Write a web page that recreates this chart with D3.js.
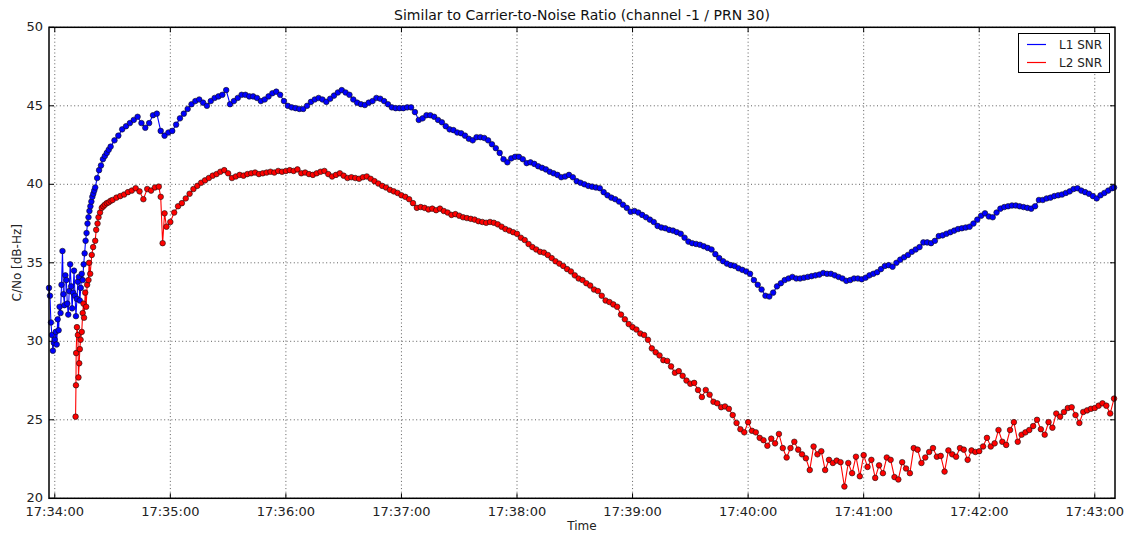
<!DOCTYPE html>
<html>
<head>
<meta charset="utf-8">
<script src="https://cdn.jsdelivr.net/npm/d3@7"></script>
<style>
  body { margin: 0; background: #fff; }
  svg { display: block; font-family: "DejaVu Sans", sans-serif; }
</style>
</head>
<body>
<svg id="chart" width="1131" height="536"></svg>
<script>
// seconds after 17:34:00, C/No in dB-Hz
const l1Snr = [
  [-3,33.4],[-2.5,32.9],[-2,31.2],[-1.5,30.4],[-1,29.4],[-0.5,29.9],[0,30.1],[0.5,30.6],[1,29.8],[1.5,31.4],
  [2,30.7],[2.5,32.2],[3,31.8],[3.5,33.6],[4,35.75],[4.5,33.0],[5,32.3],[5.5,34.2],[6,33.9],[6.5,32.4],
  [7,31.7],[7.5,33.2],[8,34.9],[8.5,33.5],[9,32.1],[9.5,33.1],[10,34.5],[10.5,32.9],[11,31.6],[11.5,32.7],
  [12,33.8],[12.5,34.1],[13,32.6],[13.5,33.4],[14,34.3],[14.5,33.9],[15,34.9],[15.5,35.6],[16,36.4],[16.5,36.9],
  [17,37.5],[17.5,37.9],[18,38.3],[18.5,38.6],[19,38.9],[19.5,39.2],[20,39.4],[20.5,39.6],[21,39.8],[22,40.4],
  [23,40.9],[24,41.2],[25,41.6],[26,41.8],[27,42.0],[28,42.2],
  [29,42.4],[31,42.8],[33,43.1],[35,43.5],[37,43.7],[39,43.9],[41,44.1],[43,44.3],[45,43.9],[47,43.6],
  [49,43.9],[51,44.4],[53,44.5],[55,43.4],[57,43.1],[59,43.3],[61,43.4],[63,43.8],[65,44.2],[67,44.5],
  [69,44.8],[71,45.1],[73,45.3],[75,45.4],[77,45.2],[79,45.0],[81,45.3],[83,45.5],[85,45.6],[87,45.7],
  [89,46.0],[91,45.1],[93,45.3],[95,45.5],[97,45.7],[99,45.7],[101,45.6],[103,45.6],[105,45.5],[107,45.3],
  [109,45.4],[111,45.6],[113,45.8],[115,45.9],[117,45.7],[119,45.3],[121,45.0],[123,44.9],[125,44.85],[127,44.8],
  [129,44.8],[131,45.0],[133,45.25],[135,45.4],[137,45.5],[139,45.4],[141,45.25],[143,45.45],[145,45.65],[147,45.85],
  [149,46.0],[151,45.85],[153,45.7],[155,45.4],[157,45.2],[159,45.1],[161,45.05],[163,45.2],[165,45.3],[167,45.5],
  [169,45.45],[171,45.3],[173,45.1],[175,44.9],[177,44.85],[179,44.85],[181,44.85],[183,44.9],[185,44.9],[187,44.6],
  [189,44.1],[191,44.2],[193,44.4],[195,44.4],[197,44.3],[199,44.1],[201,43.95],[203,43.7],[205,43.5],[207,43.45],
  [209,43.3],[211,43.25],[213,43.1],[215,42.9],[217,42.8],[219,43.0],[221,43.0],[223,42.95],[225,42.8],[227,42.55],
  [229,42.3],[231,42.0],[233,41.6],[235,41.4],[237,41.65],[239,41.75],[241,41.75],[243,41.6],[245,41.35],[247,41.4],
  [249,41.3],[251,41.15],[253,41.05],[255,40.95],[257,40.8],[259,40.7],[261,40.6],[263,40.45],[265,40.5],[267,40.6],
  [269,40.45],[271,40.2],[273,40.1],[275,40.0],[277,39.9],[279,39.85],[281,39.8],[283,39.75],[285,39.5],[287,39.3],
  [289,39.15],[291,39.05],[293,38.9],[295,38.7],[297,38.5],[299,38.25],[301,38.3],[303,38.2],[305,38.05],[307,37.9],
  [309,37.75],[311,37.6],[313,37.35],[315,37.25],[317,37.2],[319,37.1],[321,37.05],[323,36.95],[325,36.85],[327,36.6],
  [329,36.35],[331,36.25],[333,36.2],[335,36.15],[337,36.05],[339,35.95],[341,35.85],[343,35.55],[345,35.3],[347,35.1],
  [349,34.95],[351,34.85],[353,34.8],[355,34.65],[357,34.55],[359,34.45],[361,34.3],[363,33.9],[365,33.6],[367,33.3],
  [369,32.9],[371,32.85],[373,33.1],[375,33.5],[377,33.7],[379,33.9],[381,34.0],[383,34.1],[385,34.0],[387,34.0],
  [389,34.05],[391,34.1],[393,34.15],[395,34.2],[397,34.25],[399,34.35],[401,34.3],[403,34.3],[405,34.2],[407,34.1],
  [409,34.0],[411,33.85],[413,33.9],[415,34.0],[417,34.0],[419,33.95],[421,34.05],[423,34.2],[425,34.3],[427,34.4],
  [429,34.6],[431,34.8],[433,34.85],[435,34.75],[437,35.0],[439,35.2],[441,35.35],[443,35.5],[445,35.7],[447,35.85],
  [449,36.0],[451,36.3],[453,36.3],[455,36.25],[457,36.4],[459,36.7],[461,36.75],[463,36.85],[465,36.95],[467,37.05],
  [469,37.15],[471,37.2],[473,37.25],[475,37.3],[477,37.5],[479,37.75],[481,38.0],[483,38.15],[485,37.95],[487,37.9],
  [489,38.2],[491,38.45],[493,38.55],[495,38.6],[497,38.65],[499,38.65],[501,38.6],[503,38.55],[505,38.5],[507,38.45],
  [509,38.6],[511,39.0],[513,39.0],[515,39.1],[517,39.15],[519,39.25],[521,39.3],[523,39.35],[525,39.45],[527,39.55],
  [529,39.7],[531,39.75],[533,39.6],[535,39.5],[537,39.4],[539,39.25],[541,39.1],[543,39.3],[545,39.45],[547,39.6],
  [549,39.75],[550,39.8]
]

const l2Snr = [
  [10.8,25.2],[11.0,27.2],[11.1,29.25],[11.5,30.9],[12.0,30.4],[12.3,27.7],[12.7,28.6],[13.0,29.5],[13.4,30.1],[14.0,30.6],
  [14.5,31.8],[14.9,32.4],[15.2,31.5],[15.8,33.1],[16.3,32.2],[16.8,33.6],[17.5,33.9],[17.8,35.0],[18.4,34.3],[19.2,35.5],
  [19.9,36.0],[21.0,36.4],[21.5,37.1],[22.2,37.5],[22.7,37.9],[23.5,38.2],[24.4,38.5],[25.2,38.6],[26,38.7],[27,38.8],[28,38.85],[29,38.95],[30,39.0],[32,39.15],[34,39.25],
  [36,39.35],[38,39.5],[40,39.6],[42,39.75],[44,39.55],[46,39.05],[48,39.7],[50,39.6],[52,39.8],[54,39.85],
  [55,39.2],[56,36.25],[57,38.15],[58,37.3],[60,37.6],[62,38.2],[64,38.6],[66,38.8],[68,39.1],[70,39.4],
  [72,39.7],[74,39.9],[76,40.1],[78,40.25],[80,40.4],[82,40.55],[84,40.65],[86,40.8],[88,40.9],[90,40.7],
  [92,40.4],[94,40.5],[96,40.6],[98,40.55],[100,40.65],[102,40.7],[104,40.75],[106,40.65],[108,40.7],[110,40.75],
  [112,40.8],[114,40.75],[116,40.85],[118,40.8],[120,40.85],[122,40.9],[124,40.85],[126,40.95],[128,40.7],[130,40.75],
  [132,40.65],[134,40.6],[136,40.7],[138,40.8],[140,40.85],[142,40.65],[144,40.5],[146,40.6],[148,40.7],[150,40.55],
  [152,40.4],[154,40.45],[156,40.4],[158,40.35],[160,40.45],[162,40.5],[164,40.35],[166,40.2],[168,40.05],[170,39.9],
  [172,39.8],[174,39.65],[176,39.55],[178,39.45],[180,39.3],[182,39.2],[184,39.05],[186,38.8],[188,38.5],[190,38.55],
  [192,38.5],[194,38.4],[196,38.45],[198,38.35],[200,38.45],[202,38.3],[204,38.2],[206,38.05],[208,38.1],[210,38.0],
  [212,37.9],[214,37.85],[216,37.8],[218,37.75],[220,37.65],[222,37.6],[224,37.55],[226,37.6],[228,37.55],[230,37.45],
  [232,37.3],[234,37.15],[236,37.05],[238,36.95],[240,36.85],[242,36.6],[244,36.45],[246,36.2],[248,36.0],[250,35.85],
  [252,35.7],[254,35.65],[256,35.5],[258,35.3],[260,35.1],[262,34.95],[264,34.8],[266,34.6],[268,34.45],[270,34.2],
  [272,34.0],[274,33.9],[276,33.7],[278,33.55],[280,33.3],[282,33.2],[284,32.9],[286,32.6],[288,32.5],[290,32.35],
  [292,32.2],[294,31.7],[296,31.4],[298,31.1],[300,30.9],[302,30.75],[304,30.5],[306,30.4],[308,30.1],[310,29.55],
  [312,29.3],[314,29.1],[316,28.8],[318,28.75],[320,28.4],[322,28.0],[324,28.1],[326,27.8],[328,27.5],[330,27.3],
  [332,27.35],[334,26.9],[336,26.45],[338,26.9],[340,26.6],[342,26.15],[344,26.05],[346,25.8],[348,25.85],[350,25.7],
  [352,25.3],[354,24.8],[356,24.4],[358,24.2],[360,24.85],[362,24.3],[364,24.2],[366,23.85],[368,23.7],[370,23.35],
  [372,23.8],[374,23.5],[376,24.1],[378,23.2],[380,22.6],[382,23.2],[384,23.6],[386,23.1],[388,22.8],[390,22.55],
  [392,21.8],[394,23.3],[396,22.8],[398,23.0],[400,21.8],[402,22.45],[404,22.25],[406,22.4],[408,22.3],[410,20.75],
  [412,22.25],[414,21.6],[416,22.65],[418,21.4],[420,22.75],[422,22.0],[424,22.45],[426,21.3],[428,22.1],[430,21.6],
  [432,22.6],[434,22.45],[436,21.35],[438,21.2],[440,22.3],[442,21.9],[444,21.6],[446,23.2],[448,23.1],[450,22.25],
  [452,22.6],[454,22.95],[456,23.2],[458,22.65],[460,22.7],[462,21.7],[464,23.05],[466,22.8],[468,22.65],[470,23.2],
  [472,23.1],[474,22.45],[476,23.05],[478,22.95],[480,23.0],[482,23.3],[484,23.85],[486,23.3],[488,23.5],[490,24.35],
  [492,23.6],[494,23.4],[496,24.35],[498,24.85],[500,23.6],[502,24.05],[504,24.2],[506,24.35],[508,24.6],[510,25.0],
  [512,24.4],[514,24.05],[516,24.85],[518,24.5],[520,25.4],[522,25.2],[524,25.5],[526,25.75],[528,25.8],[530,25.3],
  [532,24.8],[534,25.5],[536,25.6],[538,25.7],[540,25.75],[542,25.9],[544,26.05],[546,25.9],[548,25.4],[550,26.35]
]

const seriesNames = ['L1 SNR', 'L2 SNR']
const seriesColors = ['#0000ff', '#ff0000']
const yTicks = [20, 25, 30, 35, 40, 45, 50]
const startTime = Date.UTC(2014, 0, 1, 17, 34, 0)
const timeSpan = [-3, 550.5]

const margin = { top: 27.3, right: 16, bottom: 37.7, left: 49 }
const width = 1131
const height = 536

const svg = d3.select('#chart')
const toDate = s => new Date(startTime + s * 1000)

const x = d3.scaleUtc()
  .domain(timeSpan.map(toDate))
  .range([margin.left, width - margin.right])
const y = d3.scaleLinear()
  .domain([20, 50])
  .range([height - margin.bottom, margin.top])

const xTicks = x.ticks(d3.utcMinute.every(1))
const fmt = d3.utcFormat('%H:%M:%S')

// grid
const grid = svg.append('g')
  .attr('stroke', '#333')
  .attr('stroke-width', 0.8)
  .attr('stroke-dasharray', '1,2.6')
grid.selectAll('.gx').data(xTicks).enter().append('line')
  .attr('x1', d => x(d)).attr('x2', d => x(d))
  .attr('y1', margin.top).attr('y2', height - margin.bottom)
grid.selectAll('.gy').data(yTicks).enter().append('line')
  .attr('y1', d => y(d)).attr('y2', d => y(d))
  .attr('x1', margin.left).attr('x2', width - margin.right)

// inward ticks on all four sides
const ticks = svg.append('g').attr('stroke', '#000').attr('stroke-width', 1)
xTicks.forEach(d => {
  ticks.append('line').attr('x1', x(d)).attr('x2', x(d)).attr('y1', height - margin.bottom).attr('y2', height - margin.bottom - 5)
  ticks.append('line').attr('x1', x(d)).attr('x2', x(d)).attr('y1', margin.top).attr('y2', margin.top + 5)
})
yTicks.forEach(d => {
  ticks.append('line').attr('y1', y(d)).attr('y2', y(d)).attr('x1', margin.left).attr('x2', margin.left + 5)
  ticks.append('line').attr('y1', y(d)).attr('y2', y(d)).attr('x1', width - margin.right).attr('x2', width - margin.right - 5)
})

// series
const line = d3.line()
  .x(d => x(toDate(d[0])))
  .y(d => y(d[1]))

const plot = svg.append('g')
;[l1Snr, l2Snr].forEach((data, i) => {
  const g = plot.append('g')
  g.append('path')
    .datum(data)
    .attr('fill', 'none')
    .attr('stroke', seriesColors[i])
    .attr('stroke-width', 1.1)
    .attr('d', line)
  g.selectAll('circle')
    .data(data)
    .enter()
    .append('circle')
    .attr('cx', d => x(toDate(d[0])))
    .attr('cy', d => y(d[1]))
    .attr('r', 2.8)
    .attr('fill', seriesColors[i])
    .attr('stroke', '#111')
    .attr('stroke-width', 0.6)
})

// frame
svg.append('rect')
  .attr('x', margin.left).attr('y', margin.top)
  .attr('width', width - margin.left - margin.right)
  .attr('height', height - margin.top - margin.bottom)
  .attr('fill', 'none')
  .attr('stroke', '#000')
  .attr('stroke-width', 1.5)

// tick labels
svg.append('g').selectAll('text').data(xTicks).enter().append('text')
  .attr('x', d => x(d))
  .attr('y', height - margin.bottom + 18)
  .attr('text-anchor', 'middle')
  .attr('font-size', 13)
  .attr('fill', '#222')
  .text(d => fmt(d))
svg.append('g').selectAll('text').data(yTicks).enter().append('text')
  .attr('x', margin.left - 6)
  .attr('y', d => y(d) + 4)
  .attr('text-anchor', 'end')
  .attr('font-size', 13)
  .attr('fill', '#222')
  .text(d => d)

// titles
svg.append('text')
  .attr('x', (margin.left + width - margin.right) / 2)
  .attr('y', 20)
  .attr('text-anchor', 'middle')
  .attr('font-size', 14)
  .attr('fill', '#111')
  .text('Similar to Carrier-to-Noise Ratio (channel -1 / PRN 30)')
svg.append('text')
  .attr('x', (margin.left + width - margin.right) / 2)
  .attr('y', 530)
  .attr('text-anchor', 'middle')
  .attr('font-size', 12)
  .attr('fill', '#222')
  .text('Time')
svg.append('text')
  .attr('transform', `translate(21,${(margin.top + height - margin.bottom) / 2}) rotate(-90)`)
  .attr('text-anchor', 'middle')
  .attr('font-size', 12)
  .attr('fill', '#222')
  .text('C/No [dB-Hz]')

// legend
const legend = svg.append('g')
legend.append('rect')
  .attr('x', 1018.5).attr('y', 33.5)
  .attr('width', 91).attr('height', 39)
  .attr('fill', '#fff')
  .attr('stroke', '#000')
  .attr('stroke-width', 1)
seriesNames.forEach((name, i) => {
  const ly = 44.5 + i * 18
  legend.append('line')
    .attr('x1', 1027).attr('x2', 1046)
    .attr('y1', ly).attr('y2', ly)
    .attr('stroke', seriesColors[i])
    .attr('stroke-width', 1.2)
  legend.append('text')
    .attr('x', 1059).attr('y', ly + 4.5)
    .attr('font-size', 12)
    .attr('fill', '#222')
    .text(name)
})
</script>
</body>
</html>
